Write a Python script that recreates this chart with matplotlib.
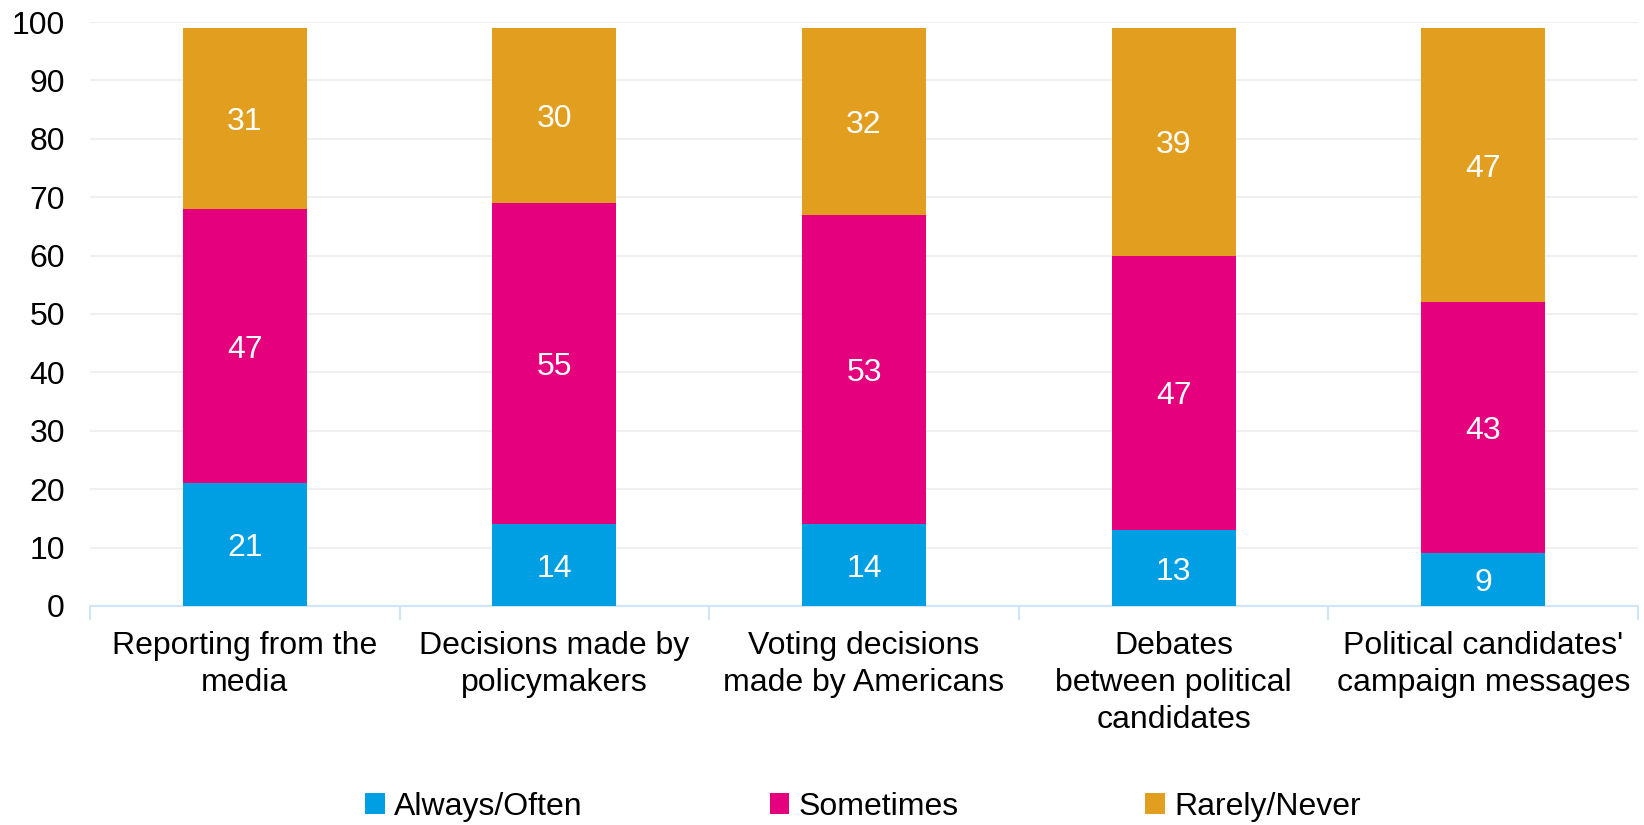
import numpy as np
import matplotlib.pyplot as plt

plt.rcParams['font.family'] = ['Liberation Sans', 'DejaVu Sans']

categories = ["Reporting from the\nmedia", "Decisions made by\npolicymakers",
              "Voting decisions\nmade by Americans", "Debates\nbetween political\ncandidates",
              "Political candidates'\ncampaign messages"]
always_often = [21, 14, 14, 13, 9]
sometimes = [47, 55, 53, 47, 43]
rarely_never = [31, 30, 32, 39, 47]

series_names = ["Always/Often", "Sometimes", "Rarely/Never"]
colors = ["#009FE3", "#E5007E", "#E29E1F"]

fig = plt.figure(figsize=(16.44, 8.25), dpi=100)
ax = fig.add_axes([0.0547, 0.2655, 0.9417, 0.7078])

x = np.arange(len(categories))
bottom = np.zeros(len(categories))
for name, vals, col in zip(series_names, [always_often, sometimes, rarely_never], colors):
    vals = np.array(vals, dtype=float)
    ax.bar(x, vals, 0.4, bottom=bottom, color=col, label=name, zorder=3)
    # white value labels in the middle of each segment
    for xi, b, v in zip(x, bottom, vals):
        ax.text(xi, b + v / 2, f"{int(v)}", ha='center', va='center_baseline',
                color='white', fontsize=23, zorder=4)
    bottom += vals

ax.set_xlim(-0.5, len(categories) - 0.5)
ax.set_ylim(0, 100)
ax.set_yticks(np.arange(0, 101, 10))
ax.yaxis.grid(True, color='#EFEFEF', linewidth=1.5, zorder=0)
ax.set_axisbelow(True)

for s in ['top', 'right', 'left']:
    ax.spines[s].set_visible(False)
ax.spines['bottom'].set_color('#D0E6F7')
ax.spines['bottom'].set_linewidth(1.5)

ax.set_xticks(x)
ax.set_xticklabels(categories, fontsize=23, linespacing=1.3)
ax.set_xticks(np.arange(-0.5, len(categories)), minor=True)
ax.tick_params(axis='x', which='major', length=0, pad=18)
ax.tick_params(axis='x', which='minor', length=10, color='#D0E6F7', width=1.5)
ax.tick_params(axis='y', length=0, labelsize=23, pad=18)

fig.legend(loc='center', bbox_to_anchor=(0.525, 0.022), ncol=3, frameon=False,
           fontsize=23, handlelength=0.6, handleheight=0.6, handletextpad=0.3,
           columnspacing=5.85)

fig.savefig('out.png', dpi=100)
